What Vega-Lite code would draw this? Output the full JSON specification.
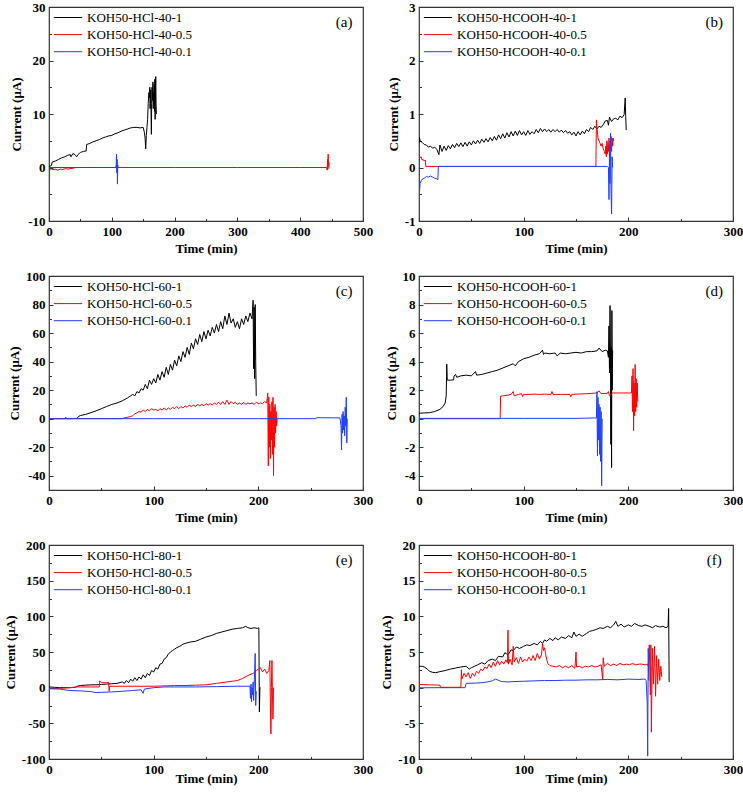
{
 "$schema": "https://vega.github.io/schema/vega-lite/v6.json",
 "background": "white",
 "padding": {"left": 3, "top": 0, "right": 0, "bottom": 0},
 "autosize": {"type": "pad"},
 "config": {
  "font": "Liberation Serif",
  "view": {"stroke": "#333333", "strokeWidth": 1.2},
  "axis": {"domain": false, "grid": false, "labelFont": "Liberation Serif", "labelFontSize": 13, "labelFontWeight": "bold", "labelColor": "#000000", "titleFont": "Liberation Serif", "titleFontSize": 13, "titleFontWeight": "bold", "titleColor": "#000000", "tickColor": "#333333", "tickWidth": 1, "labelOverlap": false, "labelFlush": false, "labelBound": false, "format": "d"},
  "axisX": {"labelPadding": 8.5, "titlePadding": 4},
  "axisY": {"labelPadding": 8, "titlePadding": 4},
  "legend": {"orient": "top-left", "offset": 4, "padding": 0, "labelFont": "Liberation Serif", "labelFontSize": 13, "labelColor": "#000000", "symbolType": "stroke", "symbolSize": 800, "symbolStrokeWidth": 1.6, "clipHeight": 13, "rowPadding": 3.1, "labelOffset": 4, "labelLimit": 300},
  "line": {"strokeWidth": 1}
 },
 "datasets": {
  "a": [
   {"s":"KOH50-HCl-40-1","t":0,"v":0},{"s":"KOH50-HCl-40-1","t":2,"v":0.3},{"s":"KOH50-HCl-40-1","t":4,"v":0.4},{"s":"KOH50-HCl-40-1","t":5,"v":1.0},{"s":"KOH50-HCl-40-1","t":10,"v":1.2},{"s":"KOH50-HCl-40-1","t":15,"v":1.5},{"s":"KOH50-HCl-40-1","t":20,"v":1.8},{"s":"KOH50-HCl-40-1","t":25,"v":2.0},{"s":"KOH50-HCl-40-1","t":30,"v":2.3},{"s":"KOH50-HCl-40-1","t":34,"v":2.4},{"s":"KOH50-HCl-40-1","t":35,"v":2.0},{"s":"KOH50-HCl-40-1","t":38,"v":2.6},{"s":"KOH50-HCl-40-1","t":40,"v":2.5},{"s":"KOH50-HCl-40-1","t":42,"v":2.3},{"s":"KOH50-HCl-40-1","t":44,"v":2.0},{"s":"KOH50-HCl-40-1","t":46,"v":2.4},{"s":"KOH50-HCl-40-1","t":48,"v":2.6},{"s":"KOH50-HCl-40-1","t":50,"v":2.8},{"s":"KOH50-HCl-40-1","t":52,"v":2.9},{"s":"KOH50-HCl-40-1","t":55,"v":3.0},{"s":"KOH50-HCl-40-1","t":58,"v":3.1},{"s":"KOH50-HCl-40-1","t":59,"v":3.0},{"s":"KOH50-HCl-40-1","t":60,"v":4.3},{"s":"KOH50-HCl-40-1","t":65,"v":4.5},{"s":"KOH50-HCl-40-1","t":70,"v":4.8},{"s":"KOH50-HCl-40-1","t":75,"v":5.0},{"s":"KOH50-HCl-40-1","t":80,"v":5.2},{"s":"KOH50-HCl-40-1","t":85,"v":5.5},{"s":"KOH50-HCl-40-1","t":90,"v":5.7},{"s":"KOH50-HCl-40-1","t":95,"v":5.9},{"s":"KOH50-HCl-40-1","t":100,"v":6.0},{"s":"KOH50-HCl-40-1","t":105,"v":6.3},{"s":"KOH50-HCl-40-1","t":110,"v":6.5},{"s":"KOH50-HCl-40-1","t":115,"v":6.8},{"s":"KOH50-HCl-40-1","t":120,"v":7.0},{"s":"KOH50-HCl-40-1","t":125,"v":7.2},{"s":"KOH50-HCl-40-1","t":130,"v":7.4},{"s":"KOH50-HCl-40-1","t":135,"v":7.5},{"s":"KOH50-HCl-40-1","t":140,"v":7.5},{"s":"KOH50-HCl-40-1","t":145,"v":7.4},{"s":"KOH50-HCl-40-1","t":150,"v":7.5},{"s":"KOH50-HCl-40-1","t":152,"v":6.5},{"s":"KOH50-HCl-40-1","t":153,"v":5.5},{"s":"KOH50-HCl-40-1","t":154,"v":3.5},{"s":"KOH50-HCl-40-1","t":155,"v":6.0},{"s":"KOH50-HCl-40-1","t":156,"v":7.5},{"s":"KOH50-HCl-40-1","t":157,"v":9.0},{"s":"KOH50-HCl-40-1","t":158,"v":12.0},{"s":"KOH50-HCl-40-1","t":159,"v":14.0},{"s":"KOH50-HCl-40-1","t":160,"v":13.0},{"s":"KOH50-HCl-40-1","t":160.5,"v":15.0},{"s":"KOH50-HCl-40-1","t":161,"v":11.0},{"s":"KOH50-HCl-40-1","t":162,"v":14.5},{"s":"KOH50-HCl-40-1","t":162.5,"v":10.0},{"s":"KOH50-HCl-40-1","t":163,"v":6.2},{"s":"KOH50-HCl-40-1","t":163.5,"v":12.0},{"s":"KOH50-HCl-40-1","t":164,"v":15.0},{"s":"KOH50-HCl-40-1","t":165,"v":12.5},{"s":"KOH50-HCl-40-1","t":165.5,"v":16.0},{"s":"KOH50-HCl-40-1","t":166,"v":11.0},{"s":"KOH50-HCl-40-1","t":166.5,"v":14.0},{"s":"KOH50-HCl-40-1","t":167,"v":12.0},{"s":"KOH50-HCl-40-1","t":167.5,"v":15.5},{"s":"KOH50-HCl-40-1","t":168,"v":10.5},{"s":"KOH50-HCl-40-1","t":168.5,"v":16.5},{"s":"KOH50-HCl-40-1","t":169,"v":9.0},{"s":"KOH50-HCl-40-1","t":169.5,"v":14.0},{"s":"KOH50-HCl-40-1","t":170,"v":17.0},{"s":"KOH50-HCl-40-1","t":170.5,"v":12.0},{"s":"KOH50-HCl-40-1","t":171,"v":10.0},
   {"s":"KOH50-HCl-40-0.5","t":0,"v":0},{"s":"KOH50-HCl-40-0.5","t":0.5,"v":-6},{"s":"KOH50-HCl-40-0.5","t":1,"v":-0.5},{"s":"KOH50-HCl-40-0.5","t":3,"v":-0.2},{"s":"KOH50-HCl-40-0.5","t":6,"v":-0.4},{"s":"KOH50-HCl-40-0.5","t":10,"v":-0.3},{"s":"KOH50-HCl-40-0.5","t":14,"v":-0.5},{"s":"KOH50-HCl-40-0.5","t":18,"v":-0.3},{"s":"KOH50-HCl-40-0.5","t":22,"v":-0.4},{"s":"KOH50-HCl-40-0.5","t":26,"v":-0.2},{"s":"KOH50-HCl-40-0.5","t":30,"v":-0.3},{"s":"KOH50-HCl-40-0.5","t":35,"v":-0.2},{"s":"KOH50-HCl-40-0.5","t":40,"v":-0.1},{"s":"KOH50-HCl-40-0.5","t":42,"v":0},{"s":"KOH50-HCl-40-0.5","t":100,"v":0},{"s":"KOH50-HCl-40-0.5","t":200,"v":0},{"s":"KOH50-HCl-40-0.5","t":300,"v":0},{"s":"KOH50-HCl-40-0.5","t":400,"v":0},{"s":"KOH50-HCl-40-0.5","t":442,"v":0},{"s":"KOH50-HCl-40-0.5","t":443,"v":-0.5},{"s":"KOH50-HCl-40-0.5","t":443.5,"v":1.5},{"s":"KOH50-HCl-40-0.5","t":444,"v":-0.3},{"s":"KOH50-HCl-40-0.5","t":444.5,"v":2.5},{"s":"KOH50-HCl-40-0.5","t":445,"v":0.2},{"s":"KOH50-HCl-40-0.5","t":445.5,"v":1.0},{"s":"KOH50-HCl-40-0.5","t":446,"v":0},
   {"s":"KOH50-HCl-40-0.1","t":0,"v":0},{"s":"KOH50-HCl-40-0.1","t":50,"v":0},{"s":"KOH50-HCl-40-0.1","t":106,"v":0},{"s":"KOH50-HCl-40-0.1","t":107,"v":0.5},{"s":"KOH50-HCl-40-0.1","t":107.5,"v":2.5},{"s":"KOH50-HCl-40-0.1","t":108,"v":-1},{"s":"KOH50-HCl-40-0.1","t":108.5,"v":1.5},{"s":"KOH50-HCl-40-0.1","t":109,"v":-3.1},{"s":"KOH50-HCl-40-0.1","t":109.5,"v":0.5},{"s":"KOH50-HCl-40-0.1","t":110,"v":0}
  ],
  "b": [
   {"s":"KOH50-HCOOH-40-1","t":0,"v":0.45},{"s":"KOH50-HCOOH-40-1","t":0.5,"v":0.56},{"s":"KOH50-HCOOH-40-1","t":1,"v":0.5},{"s":"KOH50-HCOOH-40-1","t":3,"v":0.47},{"s":"KOH50-HCOOH-40-1","t":5,"v":0.43},{"s":"KOH50-HCOOH-40-1","t":7,"v":0.42},{"s":"KOH50-HCOOH-40-1","t":9,"v":0.38},{"s":"KOH50-HCOOH-40-1","t":11,"v":0.4},{"s":"KOH50-HCOOH-40-1","t":13,"v":0.36},{"s":"KOH50-HCOOH-40-1","t":15,"v":0.38},{"s":"KOH50-HCOOH-40-1","t":17,"v":0.34},{"s":"KOH50-HCOOH-40-1","t":19,"v":0.24},{"s":"KOH50-HCOOH-40-1","t":20,"v":0.42},{"s":"KOH50-HCOOH-40-1","t":22,"v":0.3},{"s":"KOH50-HCOOH-40-1","t":24,"v":0.4},{"s":"KOH50-HCOOH-40-1","t":26,"v":0.32},{"s":"KOH50-HCOOH-40-1","t":28,"v":0.41},{"s":"KOH50-HCOOH-40-1","t":30,"v":0.35},{"s":"KOH50-HCOOH-40-1","t":32,"v":0.43},{"s":"KOH50-HCOOH-40-1","t":34,"v":0.37},{"s":"KOH50-HCOOH-40-1","t":36,"v":0.45},{"s":"KOH50-HCOOH-40-1","t":38,"v":0.39},{"s":"KOH50-HCOOH-40-1","t":40,"v":0.46},{"s":"KOH50-HCOOH-40-1","t":42,"v":0.39},{"s":"KOH50-HCOOH-40-1","t":44,"v":0.47},{"s":"KOH50-HCOOH-40-1","t":46,"v":0.4},{"s":"KOH50-HCOOH-40-1","t":48,"v":0.48},{"s":"KOH50-HCOOH-40-1","t":50,"v":0.42},{"s":"KOH50-HCOOH-40-1","t":52,"v":0.5},{"s":"KOH50-HCOOH-40-1","t":54,"v":0.44},{"s":"KOH50-HCOOH-40-1","t":56,"v":0.51},{"s":"KOH50-HCOOH-40-1","t":58,"v":0.45},{"s":"KOH50-HCOOH-40-1","t":60,"v":0.53},{"s":"KOH50-HCOOH-40-1","t":62,"v":0.47},{"s":"KOH50-HCOOH-40-1","t":64,"v":0.54},{"s":"KOH50-HCOOH-40-1","t":66,"v":0.48},{"s":"KOH50-HCOOH-40-1","t":68,"v":0.56},{"s":"KOH50-HCOOH-40-1","t":70,"v":0.5},{"s":"KOH50-HCOOH-40-1","t":72,"v":0.58},{"s":"KOH50-HCOOH-40-1","t":74,"v":0.51},{"s":"KOH50-HCOOH-40-1","t":76,"v":0.61},{"s":"KOH50-HCOOH-40-1","t":78,"v":0.54},{"s":"KOH50-HCOOH-40-1","t":80,"v":0.63},{"s":"KOH50-HCOOH-40-1","t":82,"v":0.55},{"s":"KOH50-HCOOH-40-1","t":84,"v":0.65},{"s":"KOH50-HCOOH-40-1","t":86,"v":0.57},{"s":"KOH50-HCOOH-40-1","t":88,"v":0.67},{"s":"KOH50-HCOOH-40-1","t":90,"v":0.59},{"s":"KOH50-HCOOH-40-1","t":92,"v":0.68},{"s":"KOH50-HCOOH-40-1","t":94,"v":0.6},{"s":"KOH50-HCOOH-40-1","t":96,"v":0.69},{"s":"KOH50-HCOOH-40-1","t":98,"v":0.61},{"s":"KOH50-HCOOH-40-1","t":100,"v":0.67},{"s":"KOH50-HCOOH-40-1","t":102,"v":0.6},{"s":"KOH50-HCOOH-40-1","t":104,"v":0.69},{"s":"KOH50-HCOOH-40-1","t":106,"v":0.62},{"s":"KOH50-HCOOH-40-1","t":108,"v":0.67},{"s":"KOH50-HCOOH-40-1","t":110,"v":0.63},{"s":"KOH50-HCOOH-40-1","t":112,"v":0.71},{"s":"KOH50-HCOOH-40-1","t":114,"v":0.65},{"s":"KOH50-HCOOH-40-1","t":116,"v":0.73},{"s":"KOH50-HCOOH-40-1","t":118,"v":0.67},{"s":"KOH50-HCOOH-40-1","t":120,"v":0.72},{"s":"KOH50-HCOOH-40-1","t":122,"v":0.67},{"s":"KOH50-HCOOH-40-1","t":124,"v":0.71},{"s":"KOH50-HCOOH-40-1","t":126,"v":0.66},{"s":"KOH50-HCOOH-40-1","t":128,"v":0.71},{"s":"KOH50-HCOOH-40-1","t":130,"v":0.67},{"s":"KOH50-HCOOH-40-1","t":132,"v":0.71},{"s":"KOH50-HCOOH-40-1","t":134,"v":0.66},{"s":"KOH50-HCOOH-40-1","t":136,"v":0.7},{"s":"KOH50-HCOOH-40-1","t":138,"v":0.65},{"s":"KOH50-HCOOH-40-1","t":140,"v":0.69},{"s":"KOH50-HCOOH-40-1","t":142,"v":0.64},{"s":"KOH50-HCOOH-40-1","t":144,"v":0.67},{"s":"KOH50-HCOOH-40-1","t":146,"v":0.61},{"s":"KOH50-HCOOH-40-1","t":148,"v":0.66},{"s":"KOH50-HCOOH-40-1","t":150,"v":0.59},{"s":"KOH50-HCOOH-40-1","t":152,"v":0.67},{"s":"KOH50-HCOOH-40-1","t":154,"v":0.61},{"s":"KOH50-HCOOH-40-1","t":156,"v":0.68},{"s":"KOH50-HCOOH-40-1","t":158,"v":0.63},{"s":"KOH50-HCOOH-40-1","t":160,"v":0.71},{"s":"KOH50-HCOOH-40-1","t":162,"v":0.67},{"s":"KOH50-HCOOH-40-1","t":164,"v":0.75},{"s":"KOH50-HCOOH-40-1","t":166,"v":0.71},{"s":"KOH50-HCOOH-40-1","t":168,"v":0.77},{"s":"KOH50-HCOOH-40-1","t":170,"v":0.72},{"s":"KOH50-HCOOH-40-1","t":172,"v":0.77},{"s":"KOH50-HCOOH-40-1","t":174,"v":0.75},{"s":"KOH50-HCOOH-40-1","t":176,"v":0.8},{"s":"KOH50-HCOOH-40-1","t":178,"v":0.87},{"s":"KOH50-HCOOH-40-1","t":180,"v":0.88},{"s":"KOH50-HCOOH-40-1","t":181,"v":0.79},{"s":"KOH50-HCOOH-40-1","t":182,"v":0.94},{"s":"KOH50-HCOOH-40-1","t":184,"v":0.86},{"s":"KOH50-HCOOH-40-1","t":186,"v":0.91},{"s":"KOH50-HCOOH-40-1","t":188,"v":0.92},{"s":"KOH50-HCOOH-40-1","t":190,"v":0.89},{"s":"KOH50-HCOOH-40-1","t":192,"v":0.96},{"s":"KOH50-HCOOH-40-1","t":194,"v":0.93},{"s":"KOH50-HCOOH-40-1","t":196,"v":0.99},{"s":"KOH50-HCOOH-40-1","t":197,"v":1.3},{"s":"KOH50-HCOOH-40-1","t":197.5,"v":0.95},{"s":"KOH50-HCOOH-40-1","t":198,"v":0.7},
   {"s":"KOH50-HCOOH-40-0.5","t":0,"v":0.1},{"s":"KOH50-HCOOH-40-0.5","t":0.5,"v":0.22},{"s":"KOH50-HCOOH-40-0.5","t":1,"v":0.18},{"s":"KOH50-HCOOH-40-0.5","t":2,"v":0.2},{"s":"KOH50-HCOOH-40-0.5","t":3,"v":0.14},{"s":"KOH50-HCOOH-40-0.5","t":4,"v":0.15},{"s":"KOH50-HCOOH-40-0.5","t":5,"v":0.12},{"s":"KOH50-HCOOH-40-0.5","t":6,"v":0.14},{"s":"KOH50-HCOOH-40-0.5","t":6.5,"v":0.02},{"s":"KOH50-HCOOH-40-0.5","t":20,"v":0.02},{"s":"KOH50-HCOOH-40-0.5","t":100,"v":0.02},{"s":"KOH50-HCOOH-40-0.5","t":169,"v":0.02},{"s":"KOH50-HCOOH-40-0.5","t":169.5,"v":0.89},{"s":"KOH50-HCOOH-40-0.5","t":170,"v":0.75},{"s":"KOH50-HCOOH-40-0.5","t":171,"v":0.55},{"s":"KOH50-HCOOH-40-0.5","t":172,"v":0.5},{"s":"KOH50-HCOOH-40-0.5","t":173,"v":0.45},{"s":"KOH50-HCOOH-40-0.5","t":174,"v":0.4},{"s":"KOH50-HCOOH-40-0.5","t":175,"v":0.45},{"s":"KOH50-HCOOH-40-0.5","t":176,"v":0.35},{"s":"KOH50-HCOOH-40-0.5","t":177,"v":0.3},{"s":"KOH50-HCOOH-40-0.5","t":178,"v":0.25},{"s":"KOH50-HCOOH-40-0.5","t":178.5,"v":0.4},{"s":"KOH50-HCOOH-40-0.5","t":179,"v":0.2},{"s":"KOH50-HCOOH-40-0.5","t":179.5,"v":0.5},{"s":"KOH50-HCOOH-40-0.5","t":180,"v":0.25},{"s":"KOH50-HCOOH-40-0.5","t":180.5,"v":0.45},{"s":"KOH50-HCOOH-40-0.5","t":181,"v":0.3},{"s":"KOH50-HCOOH-40-0.5","t":181.5,"v":0.55},{"s":"KOH50-HCOOH-40-0.5","t":182,"v":0.2},{"s":"KOH50-HCOOH-40-0.5","t":182.5,"v":0.5},{"s":"KOH50-HCOOH-40-0.5","t":183,"v":0.35},{"s":"KOH50-HCOOH-40-0.5","t":183.5,"v":0.58},{"s":"KOH50-HCOOH-40-0.5","t":184,"v":0.3},{"s":"KOH50-HCOOH-40-0.5","t":184.5,"v":0.55},{"s":"KOH50-HCOOH-40-0.5","t":185,"v":0.4},{"s":"KOH50-HCOOH-40-0.5","t":185.5,"v":0.55},{"s":"KOH50-HCOOH-40-0.5","t":186,"v":0.5},
   {"s":"KOH50-HCOOH-40-0.1","t":0,"v":-0.52},{"s":"KOH50-HCOOH-40-0.1","t":0.5,"v":-0.45},{"s":"KOH50-HCOOH-40-0.1","t":1,"v":-0.3},{"s":"KOH50-HCOOH-40-0.1","t":2,"v":-0.25},{"s":"KOH50-HCOOH-40-0.1","t":3,"v":-0.22},{"s":"KOH50-HCOOH-40-0.1","t":5,"v":-0.2},{"s":"KOH50-HCOOH-40-0.1","t":7,"v":-0.17},{"s":"KOH50-HCOOH-40-0.1","t":9,"v":-0.18},{"s":"KOH50-HCOOH-40-0.1","t":11,"v":-0.16},{"s":"KOH50-HCOOH-40-0.1","t":13,"v":-0.18},{"s":"KOH50-HCOOH-40-0.1","t":15,"v":-0.2},{"s":"KOH50-HCOOH-40-0.1","t":17,"v":-0.21},{"s":"KOH50-HCOOH-40-0.1","t":18,"v":-0.23},{"s":"KOH50-HCOOH-40-0.1","t":18.5,"v":0.02},{"s":"KOH50-HCOOH-40-0.1","t":100,"v":0.02},{"s":"KOH50-HCOOH-40-0.1","t":180,"v":0.02},{"s":"KOH50-HCOOH-40-0.1","t":181,"v":0.0},{"s":"KOH50-HCOOH-40-0.1","t":181.5,"v":-0.6},{"s":"KOH50-HCOOH-40-0.1","t":182,"v":0.3},{"s":"KOH50-HCOOH-40-0.1","t":182.5,"v":-0.3},{"s":"KOH50-HCOOH-40-0.1","t":183,"v":0.64},{"s":"KOH50-HCOOH-40-0.1","t":183.5,"v":-0.5},{"s":"KOH50-HCOOH-40-0.1","t":184,"v":-0.87},{"s":"KOH50-HCOOH-40-0.1","t":184.5,"v":0.2},{"s":"KOH50-HCOOH-40-0.1","t":185,"v":0.0}
  ],
  "c": [
   {"s":"KOH50-HCl-60-1","t":0,"v":0},{"s":"KOH50-HCl-60-1","t":10,"v":0},{"s":"KOH50-HCl-60-1","t":20,"v":0},{"s":"KOH50-HCl-60-1","t":27,"v":0.2},{"s":"KOH50-HCl-60-1","t":28,"v":1.5},{"s":"KOH50-HCl-60-1","t":30,"v":2.2},{"s":"KOH50-HCl-60-1","t":35,"v":3},{"s":"KOH50-HCl-60-1","t":40,"v":4.2},{"s":"KOH50-HCl-60-1","t":45,"v":5.5},{"s":"KOH50-HCl-60-1","t":50,"v":7},{"s":"KOH50-HCl-60-1","t":55,"v":8.5},{"s":"KOH50-HCl-60-1","t":60,"v":10},{"s":"KOH50-HCl-60-1","t":65,"v":11},{"s":"KOH50-HCl-60-1","t":70,"v":12.5},{"s":"KOH50-HCl-60-1","t":75,"v":14.5},{"s":"KOH50-HCl-60-1","t":80,"v":17},{"s":"KOH50-HCl-60-1","t":82,"v":16},{"s":"KOH50-HCl-60-1","t":84,"v":19},{"s":"KOH50-HCl-60-1","t":86,"v":18},{"s":"KOH50-HCl-60-1","t":88,"v":21},{"s":"KOH50-HCl-60-1","t":90,"v":20},{"s":"KOH50-HCl-60-1","t":92,"v":24},{"s":"KOH50-HCl-60-1","t":94,"v":21},{"s":"KOH50-HCl-60-1","t":96,"v":27},{"s":"KOH50-HCl-60-1","t":98,"v":24},{"s":"KOH50-HCl-60-1","t":100,"v":28},{"s":"KOH50-HCl-60-1","t":102,"v":25},{"s":"KOH50-HCl-60-1","t":104,"v":31},{"s":"KOH50-HCl-60-1","t":106,"v":27},{"s":"KOH50-HCl-60-1","t":108,"v":33},{"s":"KOH50-HCl-60-1","t":110,"v":29},{"s":"KOH50-HCl-60-1","t":112,"v":36},{"s":"KOH50-HCl-60-1","t":114,"v":31},{"s":"KOH50-HCl-60-1","t":116,"v":38},{"s":"KOH50-HCl-60-1","t":118,"v":34},{"s":"KOH50-HCl-60-1","t":120,"v":41},{"s":"KOH50-HCl-60-1","t":122,"v":37},{"s":"KOH50-HCl-60-1","t":124,"v":44},{"s":"KOH50-HCl-60-1","t":126,"v":40},{"s":"KOH50-HCl-60-1","t":128,"v":47},{"s":"KOH50-HCl-60-1","t":130,"v":43},{"s":"KOH50-HCl-60-1","t":132,"v":50},{"s":"KOH50-HCl-60-1","t":134,"v":45},{"s":"KOH50-HCl-60-1","t":136,"v":53},{"s":"KOH50-HCl-60-1","t":138,"v":49},{"s":"KOH50-HCl-60-1","t":140,"v":56},{"s":"KOH50-HCl-60-1","t":142,"v":52},{"s":"KOH50-HCl-60-1","t":144,"v":59},{"s":"KOH50-HCl-60-1","t":146,"v":54},{"s":"KOH50-HCl-60-1","t":148,"v":61},{"s":"KOH50-HCl-60-1","t":150,"v":56},{"s":"KOH50-HCl-60-1","t":152,"v":62},{"s":"KOH50-HCl-60-1","t":154,"v":58},{"s":"KOH50-HCl-60-1","t":156,"v":64},{"s":"KOH50-HCl-60-1","t":158,"v":60},{"s":"KOH50-HCl-60-1","t":160,"v":66},{"s":"KOH50-HCl-60-1","t":162,"v":61},{"s":"KOH50-HCl-60-1","t":164,"v":68},{"s":"KOH50-HCl-60-1","t":166,"v":63},{"s":"KOH50-HCl-60-1","t":168,"v":72},{"s":"KOH50-HCl-60-1","t":170,"v":66},{"s":"KOH50-HCl-60-1","t":172,"v":74},{"s":"KOH50-HCl-60-1","t":174,"v":67},{"s":"KOH50-HCl-60-1","t":176,"v":70},{"s":"KOH50-HCl-60-1","t":178,"v":64},{"s":"KOH50-HCl-60-1","t":180,"v":68},{"s":"KOH50-HCl-60-1","t":182,"v":63},{"s":"KOH50-HCl-60-1","t":184,"v":70},{"s":"KOH50-HCl-60-1","t":186,"v":66},{"s":"KOH50-HCl-60-1","t":188,"v":72},{"s":"KOH50-HCl-60-1","t":190,"v":68},{"s":"KOH50-HCl-60-1","t":192,"v":74},{"s":"KOH50-HCl-60-1","t":194,"v":70},{"s":"KOH50-HCl-60-1","t":195,"v":83},{"s":"KOH50-HCl-60-1","t":195.5,"v":35},{"s":"KOH50-HCl-60-1","t":196,"v":78},{"s":"KOH50-HCl-60-1","t":196.5,"v":28},{"s":"KOH50-HCl-60-1","t":197,"v":80},{"s":"KOH50-HCl-60-1","t":197.5,"v":40},{"s":"KOH50-HCl-60-1","t":198,"v":16},
   {"s":"KOH50-HCl-60-0.5","t":0,"v":0},{"s":"KOH50-HCl-60-0.5","t":15,"v":0},{"s":"KOH50-HCl-60-0.5","t":16,"v":1},{"s":"KOH50-HCl-60-0.5","t":17,"v":0},{"s":"KOH50-HCl-60-0.5","t":40,"v":0},{"s":"KOH50-HCl-60-0.5","t":70,"v":0},{"s":"KOH50-HCl-60-0.5","t":72,"v":0.5},{"s":"KOH50-HCl-60-0.5","t":75,"v":1},{"s":"KOH50-HCl-60-0.5","t":78,"v":1.5},{"s":"KOH50-HCl-60-0.5","t":80,"v":2},{"s":"KOH50-HCl-60-0.5","t":82,"v":3.5},{"s":"KOH50-HCl-60-0.5","t":84,"v":4},{"s":"KOH50-HCl-60-0.5","t":86,"v":5},{"s":"KOH50-HCl-60-0.5","t":88,"v":4.5},{"s":"KOH50-HCl-60-0.5","t":90,"v":6},{"s":"KOH50-HCl-60-0.5","t":92,"v":5},{"s":"KOH50-HCl-60-0.5","t":94,"v":6.5},{"s":"KOH50-HCl-60-0.5","t":96,"v":5.5},{"s":"KOH50-HCl-60-0.5","t":98,"v":7},{"s":"KOH50-HCl-60-0.5","t":100,"v":6},{"s":"KOH50-HCl-60-0.5","t":102,"v":6.5},{"s":"KOH50-HCl-60-0.5","t":104,"v":5.5},{"s":"KOH50-HCl-60-0.5","t":106,"v":7},{"s":"KOH50-HCl-60-0.5","t":108,"v":6},{"s":"KOH50-HCl-60-0.5","t":110,"v":7.5},{"s":"KOH50-HCl-60-0.5","t":112,"v":6.2},{"s":"KOH50-HCl-60-0.5","t":114,"v":7.5},{"s":"KOH50-HCl-60-0.5","t":116,"v":6.5},{"s":"KOH50-HCl-60-0.5","t":118,"v":8},{"s":"KOH50-HCl-60-0.5","t":120,"v":7},{"s":"KOH50-HCl-60-0.5","t":122,"v":8.5},{"s":"KOH50-HCl-60-0.5","t":124,"v":7},{"s":"KOH50-HCl-60-0.5","t":126,"v":8.5},{"s":"KOH50-HCl-60-0.5","t":128,"v":7.5},{"s":"KOH50-HCl-60-0.5","t":130,"v":9},{"s":"KOH50-HCl-60-0.5","t":132,"v":8},{"s":"KOH50-HCl-60-0.5","t":134,"v":9.5},{"s":"KOH50-HCl-60-0.5","t":136,"v":8.5},{"s":"KOH50-HCl-60-0.5","t":138,"v":9.5},{"s":"KOH50-HCl-60-0.5","t":140,"v":8.5},{"s":"KOH50-HCl-60-0.5","t":142,"v":10},{"s":"KOH50-HCl-60-0.5","t":144,"v":9},{"s":"KOH50-HCl-60-0.5","t":146,"v":10},{"s":"KOH50-HCl-60-0.5","t":148,"v":9},{"s":"KOH50-HCl-60-0.5","t":150,"v":10.5},{"s":"KOH50-HCl-60-0.5","t":152,"v":9.5},{"s":"KOH50-HCl-60-0.5","t":154,"v":10.5},{"s":"KOH50-HCl-60-0.5","t":156,"v":9.5},{"s":"KOH50-HCl-60-0.5","t":158,"v":11},{"s":"KOH50-HCl-60-0.5","t":160,"v":10},{"s":"KOH50-HCl-60-0.5","t":162,"v":11.5},{"s":"KOH50-HCl-60-0.5","t":164,"v":10},{"s":"KOH50-HCl-60-0.5","t":166,"v":12},{"s":"KOH50-HCl-60-0.5","t":168,"v":10},{"s":"KOH50-HCl-60-0.5","t":170,"v":13},{"s":"KOH50-HCl-60-0.5","t":172,"v":10},{"s":"KOH50-HCl-60-0.5","t":174,"v":12},{"s":"KOH50-HCl-60-0.5","t":176,"v":10.5},{"s":"KOH50-HCl-60-0.5","t":178,"v":11.5},{"s":"KOH50-HCl-60-0.5","t":180,"v":10},{"s":"KOH50-HCl-60-0.5","t":182,"v":11},{"s":"KOH50-HCl-60-0.5","t":184,"v":10},{"s":"KOH50-HCl-60-0.5","t":186,"v":11.5},{"s":"KOH50-HCl-60-0.5","t":188,"v":10},{"s":"KOH50-HCl-60-0.5","t":190,"v":11},{"s":"KOH50-HCl-60-0.5","t":192,"v":10.5},{"s":"KOH50-HCl-60-0.5","t":194,"v":11},{"s":"KOH50-HCl-60-0.5","t":196,"v":10},{"s":"KOH50-HCl-60-0.5","t":198,"v":11.5},{"s":"KOH50-HCl-60-0.5","t":200,"v":10.5},{"s":"KOH50-HCl-60-0.5","t":202,"v":11},{"s":"KOH50-HCl-60-0.5","t":204,"v":10.5},{"s":"KOH50-HCl-60-0.5","t":206,"v":12},{"s":"KOH50-HCl-60-0.5","t":208,"v":11},{"s":"KOH50-HCl-60-0.5","t":209,"v":18},{"s":"KOH50-HCl-60-0.5","t":209.5,"v":-33},{"s":"KOH50-HCl-60-0.5","t":210,"v":15},{"s":"KOH50-HCl-60-0.5","t":210.5,"v":-20},{"s":"KOH50-HCl-60-0.5","t":211,"v":10},{"s":"KOH50-HCl-60-0.5","t":211.5,"v":-28},{"s":"KOH50-HCl-60-0.5","t":212,"v":5},{"s":"KOH50-HCl-60-0.5","t":212.5,"v":-15},{"s":"KOH50-HCl-60-0.5","t":213,"v":12},{"s":"KOH50-HCl-60-0.5","t":213.5,"v":-25},{"s":"KOH50-HCl-60-0.5","t":214,"v":15},{"s":"KOH50-HCl-60-0.5","t":214.5,"v":-40},{"s":"KOH50-HCl-60-0.5","t":215,"v":8},{"s":"KOH50-HCl-60-0.5","t":215.5,"v":-20},{"s":"KOH50-HCl-60-0.5","t":216,"v":10},{"s":"KOH50-HCl-60-0.5","t":216.5,"v":-10},{"s":"KOH50-HCl-60-0.5","t":217,"v":5},{"s":"KOH50-HCl-60-0.5","t":217.5,"v":-5},{"s":"KOH50-HCl-60-0.5","t":218,"v":0},
   {"s":"KOH50-HCl-60-0.1","t":0,"v":0},{"s":"KOH50-HCl-60-0.1","t":100,"v":0},{"s":"KOH50-HCl-60-0.1","t":200,"v":0},{"s":"KOH50-HCl-60-0.1","t":255,"v":0},{"s":"KOH50-HCl-60-0.1","t":256,"v":0.7},{"s":"KOH50-HCl-60-0.1","t":270,"v":0.6},{"s":"KOH50-HCl-60-0.1","t":278,"v":0.5},{"s":"KOH50-HCl-60-0.1","t":279,"v":-5},{"s":"KOH50-HCl-60-0.1","t":279.5,"v":-21.8},{"s":"KOH50-HCl-60-0.1","t":280,"v":3},{"s":"KOH50-HCl-60-0.1","t":280.5,"v":-10},{"s":"KOH50-HCl-60-0.1","t":281,"v":5},{"s":"KOH50-HCl-60-0.1","t":281.5,"v":-8},{"s":"KOH50-HCl-60-0.1","t":282,"v":2},{"s":"KOH50-HCl-60-0.1","t":282.5,"v":-12},{"s":"KOH50-HCl-60-0.1","t":283,"v":8},{"s":"KOH50-HCl-60-0.1","t":283.5,"v":-5},{"s":"KOH50-HCl-60-0.1","t":284,"v":15},{"s":"KOH50-HCl-60-0.1","t":284.5,"v":-17},{"s":"KOH50-HCl-60-0.1","t":285,"v":0}
  ],
  "d": [
   {"s":"KOH50-HCOOH-60-1","t":0,"v":0.38},{"s":"KOH50-HCOOH-60-1","t":5,"v":0.4},{"s":"KOH50-HCOOH-60-1","t":10,"v":0.42},{"s":"KOH50-HCOOH-60-1","t":15,"v":0.5},{"s":"KOH50-HCOOH-60-1","t":20,"v":0.65},{"s":"KOH50-HCOOH-60-1","t":23,"v":0.85},{"s":"KOH50-HCOOH-60-1","t":25,"v":1.1},{"s":"KOH50-HCOOH-60-1","t":26,"v":1.6},{"s":"KOH50-HCOOH-60-1","t":26.5,"v":3.82},{"s":"KOH50-HCOOH-60-1","t":27,"v":2.7},{"s":"KOH50-HCOOH-60-1","t":30,"v":2.7},{"s":"KOH50-HCOOH-60-1","t":33,"v":2.72},{"s":"KOH50-HCOOH-60-1","t":33.5,"v":3.0},{"s":"KOH50-HCOOH-60-1","t":35,"v":3.1},{"s":"KOH50-HCOOH-60-1","t":36,"v":2.9},{"s":"KOH50-HCOOH-60-1","t":40,"v":3.0},{"s":"KOH50-HCOOH-60-1","t":45,"v":3.05},{"s":"KOH50-HCOOH-60-1","t":50,"v":3.0},{"s":"KOH50-HCOOH-60-1","t":54,"v":3.3},{"s":"KOH50-HCOOH-60-1","t":55,"v":3.05},{"s":"KOH50-HCOOH-60-1","t":60,"v":3.1},{"s":"KOH50-HCOOH-60-1","t":65,"v":3.2},{"s":"KOH50-HCOOH-60-1","t":70,"v":3.3},{"s":"KOH50-HCOOH-60-1","t":75,"v":3.4},{"s":"KOH50-HCOOH-60-1","t":80,"v":3.55},{"s":"KOH50-HCOOH-60-1","t":85,"v":3.7},{"s":"KOH50-HCOOH-60-1","t":90,"v":3.85},{"s":"KOH50-HCOOH-60-1","t":92,"v":3.7},{"s":"KOH50-HCOOH-60-1","t":95,"v":4.0},{"s":"KOH50-HCOOH-60-1","t":100,"v":4.2},{"s":"KOH50-HCOOH-60-1","t":105,"v":4.3},{"s":"KOH50-HCOOH-60-1","t":110,"v":4.45},{"s":"KOH50-HCOOH-60-1","t":115,"v":4.55},{"s":"KOH50-HCOOH-60-1","t":118,"v":4.8},{"s":"KOH50-HCOOH-60-1","t":119,"v":4.5},{"s":"KOH50-HCOOH-60-1","t":120,"v":4.6},{"s":"KOH50-HCOOH-60-1","t":125,"v":4.55},{"s":"KOH50-HCOOH-60-1","t":130,"v":4.6},{"s":"KOH50-HCOOH-60-1","t":132,"v":4.4},{"s":"KOH50-HCOOH-60-1","t":135,"v":4.6},{"s":"KOH50-HCOOH-60-1","t":140,"v":4.55},{"s":"KOH50-HCOOH-60-1","t":145,"v":4.6},{"s":"KOH50-HCOOH-60-1","t":150,"v":4.65},{"s":"KOH50-HCOOH-60-1","t":155,"v":4.6},{"s":"KOH50-HCOOH-60-1","t":160,"v":4.7},{"s":"KOH50-HCOOH-60-1","t":165,"v":4.7},{"s":"KOH50-HCOOH-60-1","t":170,"v":4.75},{"s":"KOH50-HCOOH-60-1","t":172,"v":4.95},{"s":"KOH50-HCOOH-60-1","t":175,"v":4.7},{"s":"KOH50-HCOOH-60-1","t":178,"v":4.8},{"s":"KOH50-HCOOH-60-1","t":180,"v":4.75},{"s":"KOH50-HCOOH-60-1","t":181,"v":4.3},{"s":"KOH50-HCOOH-60-1","t":181.5,"v":6.5},{"s":"KOH50-HCOOH-60-1","t":182,"v":3.2},{"s":"KOH50-HCOOH-60-1","t":182.5,"v":7.93},{"s":"KOH50-HCOOH-60-1","t":183,"v":4.0},{"s":"KOH50-HCOOH-60-1","t":183.3,"v":-1.8},{"s":"KOH50-HCOOH-60-1","t":183.6,"v":5},{"s":"KOH50-HCOOH-60-1","t":184,"v":-3.43},{"s":"KOH50-HCOOH-60-1","t":184.3,"v":7.58},{"s":"KOH50-HCOOH-60-1","t":184.6,"v":2},{"s":"KOH50-HCOOH-60-1","t":185,"v":4.8},
   {"s":"KOH50-HCOOH-60-0.5","t":0,"v":0},{"s":"KOH50-HCOOH-60-0.5","t":40,"v":0},{"s":"KOH50-HCOOH-60-0.5","t":77.5,"v":0},{"s":"KOH50-HCOOH-60-0.5","t":78,"v":1.58},{"s":"KOH50-HCOOH-60-0.5","t":80,"v":1.6},{"s":"KOH50-HCOOH-60-0.5","t":85,"v":1.65},{"s":"KOH50-HCOOH-60-0.5","t":88,"v":1.7},{"s":"KOH50-HCOOH-60-0.5","t":90,"v":1.9},{"s":"KOH50-HCOOH-60-0.5","t":91,"v":1.6},{"s":"KOH50-HCOOH-60-0.5","t":95,"v":1.7},{"s":"KOH50-HCOOH-60-0.5","t":98,"v":1.75},{"s":"KOH50-HCOOH-60-0.5","t":99,"v":1.55},{"s":"KOH50-HCOOH-60-0.5","t":100,"v":1.7},{"s":"KOH50-HCOOH-60-0.5","t":105,"v":1.7},{"s":"KOH50-HCOOH-60-0.5","t":110,"v":1.72},{"s":"KOH50-HCOOH-60-0.5","t":115,"v":1.7},{"s":"KOH50-HCOOH-60-0.5","t":120,"v":1.72},{"s":"KOH50-HCOOH-60-0.5","t":126,"v":1.7},{"s":"KOH50-HCOOH-60-0.5","t":127,"v":1.9},{"s":"KOH50-HCOOH-60-0.5","t":128,"v":1.7},{"s":"KOH50-HCOOH-60-0.5","t":135,"v":1.7},{"s":"KOH50-HCOOH-60-0.5","t":144,"v":1.7},{"s":"KOH50-HCOOH-60-0.5","t":145,"v":1.55},{"s":"KOH50-HCOOH-60-0.5","t":146,"v":1.7},{"s":"KOH50-HCOOH-60-0.5","t":150,"v":1.72},{"s":"KOH50-HCOOH-60-0.5","t":160,"v":1.75},{"s":"KOH50-HCOOH-60-0.5","t":170,"v":1.8},{"s":"KOH50-HCOOH-60-0.5","t":172,"v":1.95},{"s":"KOH50-HCOOH-60-0.5","t":174,"v":1.75},{"s":"KOH50-HCOOH-60-0.5","t":180,"v":1.78},{"s":"KOH50-HCOOH-60-0.5","t":181,"v":1.9},{"s":"KOH50-HCOOH-60-0.5","t":182,"v":1.6},{"s":"KOH50-HCOOH-60-0.5","t":185,"v":1.8},{"s":"KOH50-HCOOH-60-0.5","t":190,"v":1.8},{"s":"KOH50-HCOOH-60-0.5","t":195,"v":1.8},{"s":"KOH50-HCOOH-60-0.5","t":200,"v":1.8},{"s":"KOH50-HCOOH-60-0.5","t":203,"v":1.8},{"s":"KOH50-HCOOH-60-0.5","t":203.5,"v":3.0},{"s":"KOH50-HCOOH-60-0.5","t":204,"v":0.5},{"s":"KOH50-HCOOH-60-0.5","t":204.5,"v":3.5},{"s":"KOH50-HCOOH-60-0.5","t":205,"v":-0.84},{"s":"KOH50-HCOOH-60-0.5","t":205.5,"v":2.5},{"s":"KOH50-HCOOH-60-0.5","t":206,"v":0.2},{"s":"KOH50-HCOOH-60-0.5","t":206.5,"v":3.8},{"s":"KOH50-HCOOH-60-0.5","t":207,"v":0.5},{"s":"KOH50-HCOOH-60-0.5","t":207.5,"v":2.8},{"s":"KOH50-HCOOH-60-0.5","t":208,"v":0.8},{"s":"KOH50-HCOOH-60-0.5","t":208.5,"v":2.5},{"s":"KOH50-HCOOH-60-0.5","t":209,"v":1.2},
   {"s":"KOH50-HCOOH-60-0.1","t":0,"v":-0.5},{"s":"KOH50-HCOOH-60-0.1","t":0.5,"v":0.0},{"s":"KOH50-HCOOH-60-0.1","t":1,"v":0.02},{"s":"KOH50-HCOOH-60-0.1","t":50,"v":0.02},{"s":"KOH50-HCOOH-60-0.1","t":100,"v":0.02},{"s":"KOH50-HCOOH-60-0.1","t":150,"v":0.02},{"s":"KOH50-HCOOH-60-0.1","t":169.5,"v":0.05},{"s":"KOH50-HCOOH-60-0.1","t":170,"v":1.9},{"s":"KOH50-HCOOH-60-0.1","t":170.5,"v":-2.6},{"s":"KOH50-HCOOH-60-0.1","t":171,"v":1.5},{"s":"KOH50-HCOOH-60-0.1","t":171.5,"v":-1.5},{"s":"KOH50-HCOOH-60-0.1","t":172,"v":1.0},{"s":"KOH50-HCOOH-60-0.1","t":172.5,"v":-2.5},{"s":"KOH50-HCOOH-60-0.1","t":173,"v":0.8},{"s":"KOH50-HCOOH-60-0.1","t":173.5,"v":-3},{"s":"KOH50-HCOOH-60-0.1","t":174,"v":0.5},{"s":"KOH50-HCOOH-60-0.1","t":174.5,"v":-4.7},{"s":"KOH50-HCOOH-60-0.1","t":175,"v":0}
  ],
  "e": [
   {"s":"KOH50-HCl-80-1","t":0,"v":1},{"s":"KOH50-HCl-80-1","t":5,"v":0.5},{"s":"KOH50-HCl-80-1","t":10,"v":0},{"s":"KOH50-HCl-80-1","t":20,"v":0},{"s":"KOH50-HCl-80-1","t":25,"v":0.5},{"s":"KOH50-HCl-80-1","t":27,"v":2},{"s":"KOH50-HCl-80-1","t":30,"v":3},{"s":"KOH50-HCl-80-1","t":35,"v":3.5},{"s":"KOH50-HCl-80-1","t":40,"v":4},{"s":"KOH50-HCl-80-1","t":45,"v":4},{"s":"KOH50-HCl-80-1","t":50,"v":4.5},{"s":"KOH50-HCl-80-1","t":55,"v":5},{"s":"KOH50-HCl-80-1","t":60,"v":5.5},{"s":"KOH50-HCl-80-1","t":65,"v":6},{"s":"KOH50-HCl-80-1","t":70,"v":8},{"s":"KOH50-HCl-80-1","t":72,"v":6},{"s":"KOH50-HCl-80-1","t":74,"v":10},{"s":"KOH50-HCl-80-1","t":76,"v":7},{"s":"KOH50-HCl-80-1","t":78,"v":12},{"s":"KOH50-HCl-80-1","t":80,"v":9},{"s":"KOH50-HCl-80-1","t":82,"v":14},{"s":"KOH50-HCl-80-1","t":84,"v":10},{"s":"KOH50-HCl-80-1","t":86,"v":15},{"s":"KOH50-HCl-80-1","t":88,"v":12},{"s":"KOH50-HCl-80-1","t":90,"v":18},{"s":"KOH50-HCl-80-1","t":92,"v":14},{"s":"KOH50-HCl-80-1","t":94,"v":20},{"s":"KOH50-HCl-80-1","t":96,"v":17},{"s":"KOH50-HCl-80-1","t":98,"v":24},{"s":"KOH50-HCl-80-1","t":100,"v":22},{"s":"KOH50-HCl-80-1","t":102,"v":28},{"s":"KOH50-HCl-80-1","t":104,"v":26},{"s":"KOH50-HCl-80-1","t":106,"v":33},{"s":"KOH50-HCl-80-1","t":108,"v":34},{"s":"KOH50-HCl-80-1","t":110,"v":40},{"s":"KOH50-HCl-80-1","t":112,"v":42},{"s":"KOH50-HCl-80-1","t":114,"v":47},{"s":"KOH50-HCl-80-1","t":116,"v":50},{"s":"KOH50-HCl-80-1","t":118,"v":52},{"s":"KOH50-HCl-80-1","t":120,"v":54},{"s":"KOH50-HCl-80-1","t":122,"v":56},{"s":"KOH50-HCl-80-1","t":125,"v":58},{"s":"KOH50-HCl-80-1","t":128,"v":61},{"s":"KOH50-HCl-80-1","t":130,"v":62},{"s":"KOH50-HCl-80-1","t":135,"v":64},{"s":"KOH50-HCl-80-1","t":140,"v":65},{"s":"KOH50-HCl-80-1","t":145,"v":68},{"s":"KOH50-HCl-80-1","t":150,"v":71},{"s":"KOH50-HCl-80-1","t":155,"v":73},{"s":"KOH50-HCl-80-1","t":160,"v":76},{"s":"KOH50-HCl-80-1","t":165,"v":78},{"s":"KOH50-HCl-80-1","t":170,"v":80},{"s":"KOH50-HCl-80-1","t":175,"v":82},{"s":"KOH50-HCl-80-1","t":180,"v":83},{"s":"KOH50-HCl-80-1","t":185,"v":84},{"s":"KOH50-HCl-80-1","t":188,"v":86},{"s":"KOH50-HCl-80-1","t":190,"v":84},{"s":"KOH50-HCl-80-1","t":193,"v":83},{"s":"KOH50-HCl-80-1","t":196,"v":84},{"s":"KOH50-HCl-80-1","t":199,"v":83},{"s":"KOH50-HCl-80-1","t":200.5,"v":84},{"s":"KOH50-HCl-80-1","t":201,"v":-34},{"s":"KOH50-HCl-80-1","t":201.5,"v":0},{"s":"KOH50-HCl-80-1","t":202,"v":0},
   {"s":"KOH50-HCl-80-0.5","t":0,"v":-1},{"s":"KOH50-HCl-80-0.5","t":10,"v":-1},{"s":"KOH50-HCl-80-0.5","t":20,"v":0},{"s":"KOH50-HCl-80-0.5","t":27,"v":1},{"s":"KOH50-HCl-80-0.5","t":40,"v":1},{"s":"KOH50-HCl-80-0.5","t":48,"v":1},{"s":"KOH50-HCl-80-0.5","t":48.5,"v":9.5},{"s":"KOH50-HCl-80-0.5","t":50,"v":7},{"s":"KOH50-HCl-80-0.5","t":55,"v":7},{"s":"KOH50-HCl-80-0.5","t":57,"v":7.5},{"s":"KOH50-HCl-80-0.5","t":57.5,"v":-5},{"s":"KOH50-HCl-80-0.5","t":58,"v":2},{"s":"KOH50-HCl-80-0.5","t":70,"v":2},{"s":"KOH50-HCl-80-0.5","t":80,"v":2},{"s":"KOH50-HCl-80-0.5","t":90,"v":2},{"s":"KOH50-HCl-80-0.5","t":100,"v":2},{"s":"KOH50-HCl-80-0.5","t":110,"v":2.5},{"s":"KOH50-HCl-80-0.5","t":120,"v":3},{"s":"KOH50-HCl-80-0.5","t":130,"v":3},{"s":"KOH50-HCl-80-0.5","t":140,"v":3.5},{"s":"KOH50-HCl-80-0.5","t":150,"v":4},{"s":"KOH50-HCl-80-0.5","t":160,"v":6},{"s":"KOH50-HCl-80-0.5","t":170,"v":8},{"s":"KOH50-HCl-80-0.5","t":175,"v":9},{"s":"KOH50-HCl-80-0.5","t":180,"v":10},{"s":"KOH50-HCl-80-0.5","t":185,"v":13},{"s":"KOH50-HCl-80-0.5","t":190,"v":17},{"s":"KOH50-HCl-80-0.5","t":195,"v":20},{"s":"KOH50-HCl-80-0.5","t":198,"v":24},{"s":"KOH50-HCl-80-0.5","t":200,"v":26},{"s":"KOH50-HCl-80-0.5","t":202,"v":28},{"s":"KOH50-HCl-80-0.5","t":204,"v":22},{"s":"KOH50-HCl-80-0.5","t":206,"v":26},{"s":"KOH50-HCl-80-0.5","t":208,"v":20},{"s":"KOH50-HCl-80-0.5","t":210,"v":24},{"s":"KOH50-HCl-80-0.5","t":211,"v":38},{"s":"KOH50-HCl-80-0.5","t":211.5,"v":-20},{"s":"KOH50-HCl-80-0.5","t":212,"v":-65},{"s":"KOH50-HCl-80-0.5","t":212.5,"v":0},{"s":"KOH50-HCl-80-0.5","t":213,"v":38},{"s":"KOH50-HCl-80-0.5","t":213.5,"v":-10},{"s":"KOH50-HCl-80-0.5","t":214,"v":-44},{"s":"KOH50-HCl-80-0.5","t":214.5,"v":0},
   {"s":"KOH50-HCl-80-0.1","t":0,"v":-1.5},{"s":"KOH50-HCl-80-0.1","t":10,"v":-2},{"s":"KOH50-HCl-80-0.1","t":20,"v":-4},{"s":"KOH50-HCl-80-0.1","t":30,"v":-4.5},{"s":"KOH50-HCl-80-0.1","t":40,"v":-5.5},{"s":"KOH50-HCl-80-0.1","t":45,"v":-7},{"s":"KOH50-HCl-80-0.1","t":50,"v":-6.5},{"s":"KOH50-HCl-80-0.1","t":60,"v":-6},{"s":"KOH50-HCl-80-0.1","t":70,"v":-5},{"s":"KOH50-HCl-80-0.1","t":80,"v":-4},{"s":"KOH50-HCl-80-0.1","t":88,"v":-3},{"s":"KOH50-HCl-80-0.1","t":90,"v":-8},{"s":"KOH50-HCl-80-0.1","t":91,"v":-2},{"s":"KOH50-HCl-80-0.1","t":100,"v":0},{"s":"KOH50-HCl-80-0.1","t":110,"v":1},{"s":"KOH50-HCl-80-0.1","t":120,"v":1},{"s":"KOH50-HCl-80-0.1","t":140,"v":1},{"s":"KOH50-HCl-80-0.1","t":160,"v":1.5},{"s":"KOH50-HCl-80-0.1","t":180,"v":2},{"s":"KOH50-HCl-80-0.1","t":190,"v":2},{"s":"KOH50-HCl-80-0.1","t":192,"v":2},{"s":"KOH50-HCl-80-0.1","t":192.5,"v":-15},{"s":"KOH50-HCl-80-0.1","t":193,"v":5},{"s":"KOH50-HCl-80-0.1","t":193.5,"v":-20},{"s":"KOH50-HCl-80-0.1","t":194,"v":0},{"s":"KOH50-HCl-80-0.1","t":194.5,"v":-10},{"s":"KOH50-HCl-80-0.1","t":195,"v":8},{"s":"KOH50-HCl-80-0.1","t":195.5,"v":-18},{"s":"KOH50-HCl-80-0.1","t":196,"v":2},{"s":"KOH50-HCl-80-0.1","t":197,"v":48},{"s":"KOH50-HCl-80-0.1","t":197.5,"v":-25},{"s":"KOH50-HCl-80-0.1","t":198,"v":-5}
  ],
  "f": [
   {"s":"KOH50-HCOOH-80-1","t":0,"v":3.0},{"s":"KOH50-HCOOH-80-1","t":3,"v":3.0},{"s":"KOH50-HCOOH-80-1","t":5,"v":2.9},{"s":"KOH50-HCOOH-80-1","t":8,"v":2.6},{"s":"KOH50-HCOOH-80-1","t":10,"v":2.3},{"s":"KOH50-HCOOH-80-1","t":13,"v":2.15},{"s":"KOH50-HCOOH-80-1","t":16,"v":2.1},{"s":"KOH50-HCOOH-80-1","t":20,"v":2.25},{"s":"KOH50-HCOOH-80-1","t":25,"v":2.4},{"s":"KOH50-HCOOH-80-1","t":30,"v":2.6},{"s":"KOH50-HCOOH-80-1","t":35,"v":2.75},{"s":"KOH50-HCOOH-80-1","t":40,"v":2.9},{"s":"KOH50-HCOOH-80-1","t":45,"v":3.0},{"s":"KOH50-HCOOH-80-1","t":48,"v":2.6},{"s":"KOH50-HCOOH-80-1","t":50,"v":2.8},{"s":"KOH50-HCOOH-80-1","t":53,"v":3.0},{"s":"KOH50-HCOOH-80-1","t":56,"v":3.2},{"s":"KOH50-HCOOH-80-1","t":60,"v":3.5},{"s":"KOH50-HCOOH-80-1","t":63,"v":3.3},{"s":"KOH50-HCOOH-80-1","t":66,"v":3.8},{"s":"KOH50-HCOOH-80-1","t":70,"v":4.0},{"s":"KOH50-HCOOH-80-1","t":73,"v":3.8},{"s":"KOH50-HCOOH-80-1","t":76,"v":4.4},{"s":"KOH50-HCOOH-80-1","t":80,"v":4.3},{"s":"KOH50-HCOOH-80-1","t":82,"v":4.9},{"s":"KOH50-HCOOH-80-1","t":85,"v":4.6},{"s":"KOH50-HCOOH-80-1","t":88,"v":5.3},{"s":"KOH50-HCOOH-80-1","t":90,"v":5.2},{"s":"KOH50-HCOOH-80-1","t":93,"v":5.7},{"s":"KOH50-HCOOH-80-1","t":96,"v":5.5},{"s":"KOH50-HCOOH-80-1","t":100,"v":5.8},{"s":"KOH50-HCOOH-80-1","t":103,"v":6.0},{"s":"KOH50-HCOOH-80-1","t":106,"v":5.9},{"s":"KOH50-HCOOH-80-1","t":110,"v":6.2},{"s":"KOH50-HCOOH-80-1","t":113,"v":6.0},{"s":"KOH50-HCOOH-80-1","t":116,"v":6.5},{"s":"KOH50-HCOOH-80-1","t":118,"v":6.2},{"s":"KOH50-HCOOH-80-1","t":120,"v":6.7},{"s":"KOH50-HCOOH-80-1","t":122,"v":6.5},{"s":"KOH50-HCOOH-80-1","t":125,"v":6.9},{"s":"KOH50-HCOOH-80-1","t":128,"v":6.6},{"s":"KOH50-HCOOH-80-1","t":130,"v":7.0},{"s":"KOH50-HCOOH-80-1","t":133,"v":6.7},{"s":"KOH50-HCOOH-80-1","t":136,"v":7.1},{"s":"KOH50-HCOOH-80-1","t":140,"v":6.9},{"s":"KOH50-HCOOH-80-1","t":143,"v":7.3},{"s":"KOH50-HCOOH-80-1","t":146,"v":7.0},{"s":"KOH50-HCOOH-80-1","t":148,"v":7.8},{"s":"KOH50-HCOOH-80-1","t":150,"v":7.2},{"s":"KOH50-HCOOH-80-1","t":153,"v":7.5},{"s":"KOH50-HCOOH-80-1","t":156,"v":7.2},{"s":"KOH50-HCOOH-80-1","t":160,"v":7.6},{"s":"KOH50-HCOOH-80-1","t":163,"v":7.9},{"s":"KOH50-HCOOH-80-1","t":166,"v":8.0},{"s":"KOH50-HCOOH-80-1","t":170,"v":8.2},{"s":"KOH50-HCOOH-80-1","t":173,"v":8.4},{"s":"KOH50-HCOOH-80-1","t":176,"v":8.3},{"s":"KOH50-HCOOH-80-1","t":180,"v":8.6},{"s":"KOH50-HCOOH-80-1","t":183,"v":8.4},{"s":"KOH50-HCOOH-80-1","t":186,"v":8.8},{"s":"KOH50-HCOOH-80-1","t":188,"v":9.3},{"s":"KOH50-HCOOH-80-1","t":190,"v":8.6},{"s":"KOH50-HCOOH-80-1","t":193,"v":8.9},{"s":"KOH50-HCOOH-80-1","t":196,"v":8.5},{"s":"KOH50-HCOOH-80-1","t":200,"v":8.8},{"s":"KOH50-HCOOH-80-1","t":203,"v":8.6},{"s":"KOH50-HCOOH-80-1","t":206,"v":9.0},{"s":"KOH50-HCOOH-80-1","t":210,"v":8.7},{"s":"KOH50-HCOOH-80-1","t":213,"v":8.6},{"s":"KOH50-HCOOH-80-1","t":216,"v":8.8},{"s":"KOH50-HCOOH-80-1","t":220,"v":8.6},{"s":"KOH50-HCOOH-80-1","t":223,"v":8.4},{"s":"KOH50-HCOOH-80-1","t":226,"v":8.7},{"s":"KOH50-HCOOH-80-1","t":230,"v":8.5},{"s":"KOH50-HCOOH-80-1","t":233,"v":8.6},{"s":"KOH50-HCOOH-80-1","t":236,"v":8.4},{"s":"KOH50-HCOOH-80-1","t":238,"v":8.6},{"s":"KOH50-HCOOH-80-1","t":238.5,"v":11.1},{"s":"KOH50-HCOOH-80-1","t":239,"v":0.8},
   {"s":"KOH50-HCOOH-80-0.5","t":0,"v":0.45},{"s":"KOH50-HCOOH-80-0.5","t":10,"v":0.4},{"s":"KOH50-HCOOH-80-0.5","t":20,"v":0.35},{"s":"KOH50-HCOOH-80-0.5","t":20.5,"v":0.05},{"s":"KOH50-HCOOH-80-0.5","t":30,"v":0.05},{"s":"KOH50-HCOOH-80-0.5","t":40,"v":0.05},{"s":"KOH50-HCOOH-80-0.5","t":40.5,"v":2.5},{"s":"KOH50-HCOOH-80-0.5","t":41,"v":1.2},{"s":"KOH50-HCOOH-80-0.5","t":43,"v":2.0},{"s":"KOH50-HCOOH-80-0.5","t":45,"v":1.5},{"s":"KOH50-HCOOH-80-0.5","t":47,"v":2.1},{"s":"KOH50-HCOOH-80-0.5","t":49,"v":1.3},{"s":"KOH50-HCOOH-80-0.5","t":51,"v":2.0},{"s":"KOH50-HCOOH-80-0.5","t":53,"v":1.6},{"s":"KOH50-HCOOH-80-0.5","t":55,"v":2.3},{"s":"KOH50-HCOOH-80-0.5","t":57,"v":2.0},{"s":"KOH50-HCOOH-80-0.5","t":59,"v":2.6},{"s":"KOH50-HCOOH-80-0.5","t":61,"v":2.4},{"s":"KOH50-HCOOH-80-0.5","t":63,"v":2.9},{"s":"KOH50-HCOOH-80-0.5","t":65,"v":2.7},{"s":"KOH50-HCOOH-80-0.5","t":67,"v":3.3},{"s":"KOH50-HCOOH-80-0.5","t":69,"v":2.8},{"s":"KOH50-HCOOH-80-0.5","t":71,"v":3.6},{"s":"KOH50-HCOOH-80-0.5","t":73,"v":3.0},{"s":"KOH50-HCOOH-80-0.5","t":75,"v":3.8},{"s":"KOH50-HCOOH-80-0.5","t":77,"v":3.2},{"s":"KOH50-HCOOH-80-0.5","t":79,"v":3.7},{"s":"KOH50-HCOOH-80-0.5","t":81,"v":3.3},{"s":"KOH50-HCOOH-80-0.5","t":83,"v":3.9},{"s":"KOH50-HCOOH-80-0.5","t":84.5,"v":3.5},{"s":"KOH50-HCOOH-80-0.5","t":85,"v":8.05},{"s":"KOH50-HCOOH-80-0.5","t":85.5,"v":3.3},{"s":"KOH50-HCOOH-80-0.5","t":87,"v":4.0},{"s":"KOH50-HCOOH-80-0.5","t":89,"v":3.2},{"s":"KOH50-HCOOH-80-0.5","t":90,"v":5.8},{"s":"KOH50-HCOOH-80-0.5","t":91,"v":3.6},{"s":"KOH50-HCOOH-80-0.5","t":93,"v":4.2},{"s":"KOH50-HCOOH-80-0.5","t":95,"v":3.4},{"s":"KOH50-HCOOH-80-0.5","t":97,"v":4.3},{"s":"KOH50-HCOOH-80-0.5","t":99,"v":3.6},{"s":"KOH50-HCOOH-80-0.5","t":101,"v":4.0},{"s":"KOH50-HCOOH-80-0.5","t":103,"v":3.7},{"s":"KOH50-HCOOH-80-0.5","t":105,"v":4.3},{"s":"KOH50-HCOOH-80-0.5","t":107,"v":3.8},{"s":"KOH50-HCOOH-80-0.5","t":109,"v":4.5},{"s":"KOH50-HCOOH-80-0.5","t":111,"v":3.8},{"s":"KOH50-HCOOH-80-0.5","t":113,"v":4.8},{"s":"KOH50-HCOOH-80-0.5","t":115,"v":4.0},{"s":"KOH50-HCOOH-80-0.5","t":117,"v":4.6},{"s":"KOH50-HCOOH-80-0.5","t":118,"v":6.2},{"s":"KOH50-HCOOH-80-0.5","t":119,"v":5.2},{"s":"KOH50-HCOOH-80-0.5","t":120,"v":5.6},{"s":"KOH50-HCOOH-80-0.5","t":121,"v":4.6},{"s":"KOH50-HCOOH-80-0.5","t":122,"v":4.0},{"s":"KOH50-HCOOH-80-0.5","t":123,"v":3.4},{"s":"KOH50-HCOOH-80-0.5","t":125,"v":3.1},{"s":"KOH50-HCOOH-80-0.5","t":128,"v":3.0},{"s":"KOH50-HCOOH-80-0.5","t":131,"v":2.9},{"s":"KOH50-HCOOH-80-0.5","t":134,"v":3.1},{"s":"KOH50-HCOOH-80-0.5","t":137,"v":2.8},{"s":"KOH50-HCOOH-80-0.5","t":140,"v":3.0},{"s":"KOH50-HCOOH-80-0.5","t":143,"v":2.8},{"s":"KOH50-HCOOH-80-0.5","t":146,"v":3.1},{"s":"KOH50-HCOOH-80-0.5","t":149,"v":2.7},{"s":"KOH50-HCOOH-80-0.5","t":150,"v":5.0},{"s":"KOH50-HCOOH-80-0.5","t":150.5,"v":2.9},{"s":"KOH50-HCOOH-80-0.5","t":153,"v":3.0},{"s":"KOH50-HCOOH-80-0.5","t":156,"v":2.8},{"s":"KOH50-HCOOH-80-0.5","t":159,"v":3.0},{"s":"KOH50-HCOOH-80-0.5","t":162,"v":2.9},{"s":"KOH50-HCOOH-80-0.5","t":165,"v":3.1},{"s":"KOH50-HCOOH-80-0.5","t":168,"v":2.9},{"s":"KOH50-HCOOH-80-0.5","t":171,"v":3.0},{"s":"KOH50-HCOOH-80-0.5","t":174,"v":3.2},{"s":"KOH50-HCOOH-80-0.5","t":175.5,"v":1.1},{"s":"KOH50-HCOOH-80-0.5","t":176,"v":4.2},{"s":"KOH50-HCOOH-80-0.5","t":177,"v":3.0},{"s":"KOH50-HCOOH-80-0.5","t":180,"v":3.4},{"s":"KOH50-HCOOH-80-0.5","t":183,"v":3.1},{"s":"KOH50-HCOOH-80-0.5","t":186,"v":3.3},{"s":"KOH50-HCOOH-80-0.5","t":189,"v":3.1},{"s":"KOH50-HCOOH-80-0.5","t":192,"v":3.4},{"s":"KOH50-HCOOH-80-0.5","t":195,"v":3.2},{"s":"KOH50-HCOOH-80-0.5","t":198,"v":3.3},{"s":"KOH50-HCOOH-80-0.5","t":201,"v":3.2},{"s":"KOH50-HCOOH-80-0.5","t":204,"v":3.4},{"s":"KOH50-HCOOH-80-0.5","t":207,"v":3.2},{"s":"KOH50-HCOOH-80-0.5","t":210,"v":3.3},{"s":"KOH50-HCOOH-80-0.5","t":213,"v":3.3},{"s":"KOH50-HCOOH-80-0.5","t":216,"v":3.2},{"s":"KOH50-HCOOH-80-0.5","t":218,"v":3.3},{"s":"KOH50-HCOOH-80-0.5","t":219,"v":3.0},{"s":"KOH50-HCOOH-80-0.5","t":220,"v":6.0},{"s":"KOH50-HCOOH-80-0.5","t":221,"v":-1},{"s":"KOH50-HCOOH-80-0.5","t":221.5,"v":6.0},{"s":"KOH50-HCOOH-80-0.5","t":222,"v":-6.25},{"s":"KOH50-HCOOH-80-0.5","t":223,"v":5.5},{"s":"KOH50-HCOOH-80-0.5","t":224,"v":0.5},{"s":"KOH50-HCOOH-80-0.5","t":225,"v":5.8},{"s":"KOH50-HCOOH-80-0.5","t":226,"v":-1.2},{"s":"KOH50-HCOOH-80-0.5","t":227,"v":4.5},{"s":"KOH50-HCOOH-80-0.5","t":228,"v":0.5},{"s":"KOH50-HCOOH-80-0.5","t":229,"v":4.0},{"s":"KOH50-HCOOH-80-0.5","t":230,"v":1.0},{"s":"KOH50-HCOOH-80-0.5","t":231,"v":3.0},{"s":"KOH50-HCOOH-80-0.5","t":232,"v":1.5},
   {"s":"KOH50-HCOOH-80-0.1","t":0,"v":-0.02},{"s":"KOH50-HCOOH-80-0.1","t":20,"v":0},{"s":"KOH50-HCOOH-80-0.1","t":44,"v":0},{"s":"KOH50-HCOOH-80-0.1","t":45,"v":0.6},{"s":"KOH50-HCOOH-80-0.1","t":55,"v":0.65},{"s":"KOH50-HCOOH-80-0.1","t":60,"v":0.7},{"s":"KOH50-HCOOH-80-0.1","t":65,"v":0.8},{"s":"KOH50-HCOOH-80-0.1","t":70,"v":0.95},{"s":"KOH50-HCOOH-80-0.1","t":73,"v":1.2},{"s":"KOH50-HCOOH-80-0.1","t":75,"v":1.1},{"s":"KOH50-HCOOH-80-0.1","t":78,"v":0.9},{"s":"KOH50-HCOOH-80-0.1","t":80,"v":0.85},{"s":"KOH50-HCOOH-80-0.1","t":85,"v":0.8},{"s":"KOH50-HCOOH-80-0.1","t":90,"v":0.85},{"s":"KOH50-HCOOH-80-0.1","t":100,"v":0.9},{"s":"KOH50-HCOOH-80-0.1","t":110,"v":0.95},{"s":"KOH50-HCOOH-80-0.1","t":120,"v":1.0},{"s":"KOH50-HCOOH-80-0.1","t":130,"v":1.0},{"s":"KOH50-HCOOH-80-0.1","t":140,"v":1.05},{"s":"KOH50-HCOOH-80-0.1","t":150,"v":1.05},{"s":"KOH50-HCOOH-80-0.1","t":160,"v":1.1},{"s":"KOH50-HCOOH-80-0.1","t":170,"v":1.1},{"s":"KOH50-HCOOH-80-0.1","t":180,"v":1.15},{"s":"KOH50-HCOOH-80-0.1","t":190,"v":1.1},{"s":"KOH50-HCOOH-80-0.1","t":200,"v":1.2},{"s":"KOH50-HCOOH-80-0.1","t":210,"v":1.15},{"s":"KOH50-HCOOH-80-0.1","t":216,"v":1.2},{"s":"KOH50-HCOOH-80-0.1","t":217,"v":1.0},{"s":"KOH50-HCOOH-80-0.1","t":218,"v":-2},{"s":"KOH50-HCOOH-80-0.1","t":218.5,"v":-9.6},{"s":"KOH50-HCOOH-80-0.1","t":219,"v":5.5},{"s":"KOH50-HCOOH-80-0.1","t":219.5,"v":1.0}
  ]
 },
 "columns": 2,
 "spacing": {"row": 55, "column": 56},
 "bounds": "flush",
 "resolve": {"scale": {"x": "independent", "y": "independent", "color": "independent"}},
 "concat": [
    {"width": 314, "height": 214, "resolve": {"axis": {"x": "independent", "y": "independent"}}, "layer": [
      {"data": {"name": "a"}, "mark": {"type": "line", "strokeWidth": 1, "clip": true}, "encoding": {
        "x": {"field": "t", "type": "quantitative", "scale": {"domain": [0, 500], "nice": false, "zero": false}, "axis": {"orient": "bottom", "title": "Time (min)", "labelOverlap": false, "values": [0,100,200,300,400,500], "tickSize": -4, "labelExpr": "replace(datum.label, '−', '-')"}},
        "y": {"field": "v", "type": "quantitative", "scale": {"domain": [-10, 30], "nice": false, "zero": false}, "axis": {"orient": "left", "title": "Current (μA)", "labelOverlap": false, "values": [-10,0,10,20,30], "tickSize": -4, "labelExpr": "replace(datum.label, '−', '-')"}},
        "color": {"field": "s", "type": "nominal", "scale": {"domain": ["KOH50-HCl-40-1","KOH50-HCl-40-0.5","KOH50-HCl-40-0.1"], "range": ["#000000","#ff0000","#1f3dff"]}, "legend": {"title": null}}}},
      {"data": {"values": [{"label": "(a)"}]}, "mark": {"type": "text", "font": "Liberation Serif", "fontSize": 15, "align": "center", "baseline": "middle", "color": "#000000"}, "encoding": {
        "x": {"datum": 470, "type": "quantitative", "axis": {"orient": "bottom", "title": null, "labels": false, "values": [50,150,250,350,450], "tickSize": -2.5}},
        "y": {"datum": 27.2, "type": "quantitative", "axis": {"orient": "left", "title": null, "labels": false, "values": [-5,5,15,25], "tickSize": -2.5}},
        "text": {"field": "label"}}}
    ]},
    {"width": 314, "height": 214, "resolve": {"axis": {"x": "independent", "y": "independent"}}, "layer": [
      {"data": {"name": "b"}, "mark": {"type": "line", "strokeWidth": 1, "clip": true}, "encoding": {
        "x": {"field": "t", "type": "quantitative", "scale": {"domain": [0, 300], "nice": false, "zero": false}, "axis": {"orient": "bottom", "title": "Time (min)", "labelOverlap": false, "values": [0,100,200,300], "tickSize": -4, "labelExpr": "replace(datum.label, '−', '-')"}},
        "y": {"field": "v", "type": "quantitative", "scale": {"domain": [-1, 3], "nice": false, "zero": false}, "axis": {"orient": "left", "title": "Current (μA)", "labelOverlap": false, "values": [-1,0,1,2,3], "tickSize": -4, "labelExpr": "replace(datum.label, '−', '-')"}},
        "color": {"field": "s", "type": "nominal", "scale": {"domain": ["KOH50-HCOOH-40-1","KOH50-HCOOH-40-0.5","KOH50-HCOOH-40-0.1"], "range": ["#000000","#ff0000","#1f3dff"]}, "legend": {"title": null}}}},
      {"data": {"values": [{"label": "(b)"}]}, "mark": {"type": "text", "font": "Liberation Serif", "fontSize": 15, "align": "center", "baseline": "middle", "color": "#000000"}, "encoding": {
        "x": {"datum": 282, "type": "quantitative", "axis": {"orient": "bottom", "title": null, "labels": false, "values": [50,150,250], "tickSize": -2.5}},
        "y": {"datum": 2.72, "type": "quantitative", "axis": {"orient": "left", "title": null, "labels": false, "values": [-0.5,0.5,1.5,2.5], "tickSize": -2.5}},
        "text": {"field": "label"}}}
    ]},
    {"width": 314, "height": 214, "resolve": {"axis": {"x": "independent", "y": "independent"}}, "layer": [
      {"data": {"name": "c"}, "mark": {"type": "line", "strokeWidth": 1, "clip": true}, "encoding": {
        "x": {"field": "t", "type": "quantitative", "scale": {"domain": [0, 300], "nice": false, "zero": false}, "axis": {"orient": "bottom", "title": "Time (min)", "labelOverlap": false, "values": [0,100,200,300], "tickSize": -4, "labelExpr": "replace(datum.label, '−', '-')"}},
        "y": {"field": "v", "type": "quantitative", "scale": {"domain": [-50, 100], "nice": false, "zero": false}, "axis": {"orient": "left", "title": "Current (μA)", "labelOverlap": false, "values": [-40,-20,0,20,40,60,80,100], "tickSize": -4, "labelExpr": "replace(datum.label, '−', '-')"}},
        "color": {"field": "s", "type": "nominal", "scale": {"domain": ["KOH50-HCl-60-1","KOH50-HCl-60-0.5","KOH50-HCl-60-0.1"], "range": ["#000000","#ff0000","#1f3dff"]}, "legend": {"title": null}}}},
      {"data": {"values": [{"label": "(c)"}]}, "mark": {"type": "text", "font": "Liberation Serif", "fontSize": 15, "align": "center", "baseline": "middle", "color": "#000000"}, "encoding": {
        "x": {"datum": 282, "type": "quantitative", "axis": {"orient": "bottom", "title": null, "labels": false, "values": [50,150,250], "tickSize": -2.5}},
        "y": {"datum": 89.4, "type": "quantitative", "axis": {"orient": "left", "title": null, "labels": false, "values": [-50,-30,-10,10,30,50,70,90], "tickSize": -2.5}},
        "text": {"field": "label"}}}
    ]},
    {"width": 314, "height": 214, "resolve": {"axis": {"x": "independent", "y": "independent"}}, "layer": [
      {"data": {"name": "d"}, "mark": {"type": "line", "strokeWidth": 1, "clip": true}, "encoding": {
        "x": {"field": "t", "type": "quantitative", "scale": {"domain": [0, 300], "nice": false, "zero": false}, "axis": {"orient": "bottom", "title": "Time (min)", "labelOverlap": false, "values": [0,100,200,300], "tickSize": -4, "labelExpr": "replace(datum.label, '−', '-')"}},
        "y": {"field": "v", "type": "quantitative", "scale": {"domain": [-5, 10], "nice": false, "zero": false}, "axis": {"orient": "left", "title": "Current (μA)", "labelOverlap": false, "values": [-4,-2,0,2,4,6,8,10], "tickSize": -4, "labelExpr": "replace(datum.label, '−', '-')"}},
        "color": {"field": "s", "type": "nominal", "scale": {"domain": ["KOH50-HCOOH-60-1","KOH50-HCOOH-60-0.5","KOH50-HCOOH-60-0.1"], "range": ["#000000","#ff0000","#1f3dff"]}, "legend": {"title": null}}}},
      {"data": {"values": [{"label": "(d)"}]}, "mark": {"type": "text", "font": "Liberation Serif", "fontSize": 15, "align": "center", "baseline": "middle", "color": "#000000"}, "encoding": {
        "x": {"datum": 282, "type": "quantitative", "axis": {"orient": "bottom", "title": null, "labels": false, "values": [50,150,250], "tickSize": -2.5}},
        "y": {"datum": 8.94, "type": "quantitative", "axis": {"orient": "left", "title": null, "labels": false, "values": [-5,-3,-1,1,3,5,7,9], "tickSize": -2.5}},
        "text": {"field": "label"}}}
    ]},
    {"width": 314, "height": 214, "resolve": {"axis": {"x": "independent", "y": "independent"}}, "layer": [
      {"data": {"name": "e"}, "mark": {"type": "line", "strokeWidth": 1, "clip": true}, "encoding": {
        "x": {"field": "t", "type": "quantitative", "scale": {"domain": [0, 300], "nice": false, "zero": false}, "axis": {"orient": "bottom", "title": "Time (min)", "titlePadding": -4, "labelOverlap": false, "values": [0,100,200,300], "tickSize": -4, "labelExpr": "replace(datum.label, '−', '-')"}},
        "y": {"field": "v", "type": "quantitative", "scale": {"domain": [-100, 200], "nice": false, "zero": false}, "axis": {"orient": "left", "title": "Current (μA)", "labelOverlap": false, "values": [-100,-50,0,50,100,150,200], "tickSize": -4, "labelExpr": "replace(datum.label, '−', '-')"}},
        "color": {"field": "s", "type": "nominal", "scale": {"domain": ["KOH50-HCl-80-1","KOH50-HCl-80-0.5","KOH50-HCl-80-0.1"], "range": ["#000000","#ff0000","#1f3dff"]}, "legend": {"title": null}}}},
      {"data": {"values": [{"label": "(e)"}]}, "mark": {"type": "text", "font": "Liberation Serif", "fontSize": 15, "align": "center", "baseline": "middle", "color": "#000000"}, "encoding": {
        "x": {"datum": 282, "type": "quantitative", "axis": {"orient": "bottom", "title": null, "labels": false, "values": [50,150,250], "tickSize": -2.5}},
        "y": {"datum": 178.9, "type": "quantitative", "axis": {"orient": "left", "title": null, "labels": false, "values": [-75,-25,25,75,125,175], "tickSize": -2.5}},
        "text": {"field": "label"}}}
    ]},
    {"width": 314, "height": 214, "resolve": {"axis": {"x": "independent", "y": "independent"}}, "layer": [
      {"data": {"name": "f"}, "mark": {"type": "line", "strokeWidth": 1, "clip": true}, "encoding": {
        "x": {"field": "t", "type": "quantitative", "scale": {"domain": [0, 300], "nice": false, "zero": false}, "axis": {"orient": "bottom", "title": "Time (min)", "titlePadding": -4, "labelOverlap": false, "values": [0,100,200,300], "tickSize": -4, "labelExpr": "replace(datum.label, '−', '-')"}},
        "y": {"field": "v", "type": "quantitative", "scale": {"domain": [-10, 20], "nice": false, "zero": false}, "axis": {"orient": "left", "title": "Current (μA)", "labelOverlap": false, "values": [-10,-5,0,5,10,15,20], "tickSize": -4, "labelExpr": "replace(datum.label, '−', '-')"}},
        "color": {"field": "s", "type": "nominal", "scale": {"domain": ["KOH50-HCOOH-80-1","KOH50-HCOOH-80-0.5","KOH50-HCOOH-80-0.1"], "range": ["#000000","#ff0000","#1f3dff"]}, "legend": {"title": null}}}},
      {"data": {"values": [{"label": "(f)"}]}, "mark": {"type": "text", "font": "Liberation Serif", "fontSize": 15, "align": "center", "baseline": "middle", "color": "#000000"}, "encoding": {
        "x": {"datum": 282, "type": "quantitative", "axis": {"orient": "bottom", "title": null, "labels": false, "values": [50,150,250], "tickSize": -2.5}},
        "y": {"datum": 17.9, "type": "quantitative", "axis": {"orient": "left", "title": null, "labels": false, "values": [-7.5,-2.5,2.5,7.5,12.5,17.5], "tickSize": -2.5}},
        "text": {"field": "label"}}}
    ]}
 ]
}
